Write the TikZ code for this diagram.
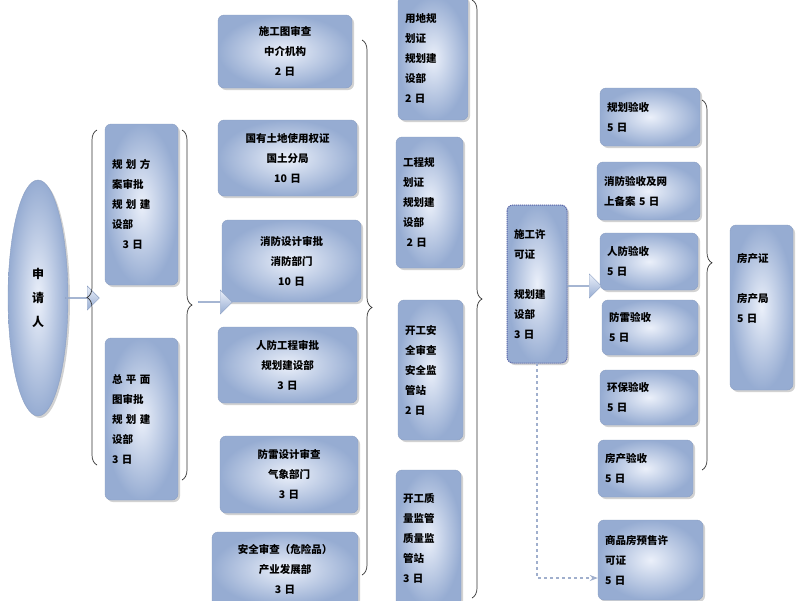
\documentclass[tikz,border=0pt]{standalone}
\usepackage{fontspec}
\setmainfont{Noto Sans CJK SC}
\usetikzlibrary{shapes.arrows,shapes.geometric,shadows,decorations.pathreplacing,arrows.meta}
\definecolor{bdr}{RGB}{140,160,195}
\definecolor{lt}{RGB}{235,240,250}
\definecolor{dk}{RGB}{150,172,210}
\definecolor{dot}{RGB}{90,100,170}
\definecolor{dsh}{RGB}{160,175,205}
\tikzset{
  box/.style={draw=bdr, rounded corners=6pt, inner color=lt, outer color=dk, drop shadow={opacity=0.35,shadow xshift=2pt,shadow yshift=-2pt}, font=\bfseries\fontsize{10.5}{20}\selectfont, inner sep=6pt},
  br/.style={decorate, decoration={brace, amplitude=10pt}, draw=black!80, line width=0.7pt},
  barrow/.style={single arrow, draw=bdr, top color=lt, bottom color=dk, minimum height=34pt, minimum width=24pt, single arrow head extend=4pt, inner sep=0pt}
}
\newcommand{\bx}[7]{\node[box, align=#6, text width={#4-#2-14}, minimum width={#4-#2}, minimum height={#5-#3}] (#1) at ({(#2+#4)/2},{(#3+#5)/2}) {#7};}
\begin{document}
\begin{tikzpicture}[x=1pt,y=-1pt]
\useasboundingbox[fill=white] (0,0) rectangle (800,600);
\node[ellipse, box, minimum width=60pt, minimum height=236pt, inner sep=0pt, align=center, font=\bfseries\fontsize{12}{24}\selectfont] (ap) at (38,298) {申\\请\\人};
\bx{a}{105}{124}{178}{285}{left}{规 划 方\\案审批\\规 划 建\\设部\\\ \ \ 3 日}
\bx{b}{105}{338}{178}{500}{left}{总 平 面\\图审批\\规 划 建\\设部\\3 日}
\bx{m1}{218}{15}{352}{88}{center}{施工图审查\\中介机构\\2 日}
\bx{m2}{218}{120}{357}{196}{center}{国有土地使用权证\\国土分局\\10 日}
\bx{m3}{222}{220}{361}{302}{center}{消防设计审批\\消防部门\\10 日}
\bx{m4}{218}{327}{357}{403}{center}{人防工程审批\\规划建设部\\3 日}
\bx{m5}{220}{436}{358}{513}{center}{防雷设计审查\\气象部门\\3 日}
\bx{m6}{212}{532}{358}{606}{center}{安全审查（危险品）\\产业发展部\\3 日}
\bx{c1}{398}{-4}{468}{120}{left}{用地规\\划证\\规划建\\设部\\2 日}
\bx{c2}{396}{137}{463}{268}{left}{工程规\\划证\\规划建\\设部\\\ 2 日}
\bx{c3}{398}{300}{463}{440}{left}{开工安\\全审查\\安全监\\管站\\2 日}
\bx{c4}{396}{470}{461}{606}{left}{开工质\\量监管\\质量监\\管站\\3 日}
\bx{sg}{507}{205}{567}{363}{left}{施工许\\可证\\\mbox{}\\规划建\\设部\\3 日}
\draw[densely dotted, line width=1pt, dot, rounded corners=6pt] (507,205) rectangle (567,363);
\bx{r1}{600}{88}{700}{146}{left}{规划验收\\5 日}
\bx{r2}{597}{162}{700}{220}{left}{消防验收及网\\上备案 5 日}
\bx{r3}{600}{233}{698}{290}{left}{人防验收\\5 日}
\bx{r4}{602}{300}{698}{355}{left}{防雷验收\\5 日}
\bx{r5}{600}{370}{698}{425}{left}{环保验收\\5 日}
\bx{r6}{598}{440}{693}{497}{left}{房产验收\\5 日}
\bx{sp}{598}{520}{703}{600}{left}{商品房预售许\\可证\\5 日}
\bx{fc}{730}{225}{793}{390}{left}{房产证\\\mbox{}\\房产局\\5 日\\\mbox{}\\\mbox{}}
\node[barrow] (ar1) at (82,298) {};
\node[barrow] (ar2) at (215,302) {};
\node[barrow] (ar3) at (584,286) {};
\draw[br] (97,465) -- (97,130);
\draw[br] (182,130) -- (182,480);
\draw[br] (362,40) -- (362,575);
\draw[br] (472,0) -- (472,598);
\draw[br, decoration={aspect=0.44}] (702,100) -- (702,470);
\draw[dashed, line width=1.2pt, dsh, -{Stealth[length=8pt]}] (sg.south) |- ([yshift=-18pt]sp.west);
\end{tikzpicture}
\end{document}
